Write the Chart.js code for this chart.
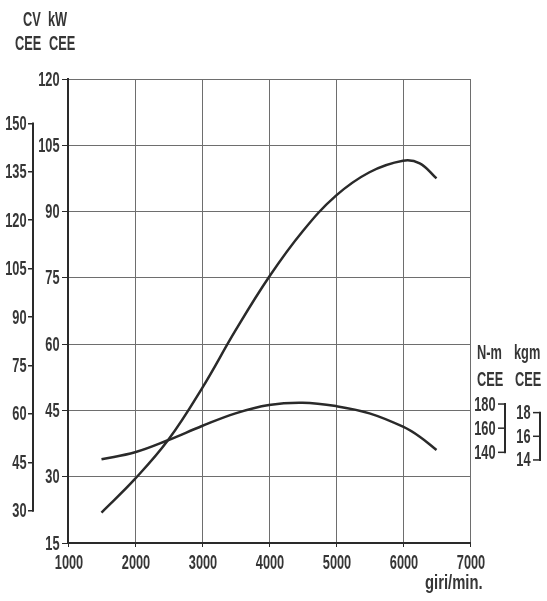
<!DOCTYPE html>
<html><head><meta charset="utf-8">
<script src="https://cdn.jsdelivr.net/npm/chart.js@4/dist/chart.umd.min.js"></script>
<style>html,body{margin:0;padding:0;background:#fff;overflow:hidden}canvas{display:block}</style>
</head><body>
<canvas id="c" width="547" height="601"></canvas>
<script>
// ---- data ----
const powerRpm = [1500, 2000, 2500, 3000, 3500, 4000, 4500, 5000, 5500, 6000, 6250, 6500];
const powerKW  = [21.9, 29.5, 38.4, 50.0, 63.1, 75.2, 85.5, 93.6, 98.9, 101.5, 100.9, 97.5];
const torqueRpm = [1500, 2000, 2500, 3000, 3500, 4000, 4500, 5000, 5500, 6000, 6250, 6500];
const torqueNm  = [134.2, 140.0, 150.2, 161.8, 172.3, 179.2, 181.1, 178.3, 172.3, 161.2, 152.9, 141.9];
// ---- tick labels ----
const rpmTicks = [1000, 2000, 3000, 4000, 5000, 6000, 7000];
const kwTicks  = [15, 30, 45, 60, 75, 90, 105, 120];
const cvTicks  = [30, 45, 60, 75, 90, 105, 120, 135, 150];
const nmTicks  = [140, 160, 180];
const kgmTicks = [14, 16, 18];
const xTitle = 'giri/min.';

const FONT = "'Liberation Sans','Arimo','DejaVu Sans',sans-serif";
const FSIZE = 20;
const SX = 0.64;           // condensed look of the original lettering
const TXT = '#363636';
const INK = '#2a2a2a';
const GRID = '#6e6e6e';

const setTicks = arr => s => { s.ticks = arr.map(v => ({value: v})); };

function txt(ctx, s, x, y, align, baseline, sx) {
  ctx.save();
  ctx.translate(x, y);
  ctx.scale(sx || SX, 1);
  ctx.textAlign = align || 'left';
  ctx.textBaseline = baseline || 'middle';
  ctx.fillText(s, 0, 0);
  ctx.restore();
}

const extras = {
  id: 'extras',
  afterDraw(chart) {
    const ctx = chart.ctx;
    const sc = chart.scales;
    ctx.save();
    ctx.font = `bold ${FSIZE}px ${FONT}`;
    ctx.fillStyle = TXT;
    ctx.strokeStyle = INK;
    ctx.lineWidth = 2;
    // x tick labels
    rpmTicks.forEach(v => txt(ctx, String(v), sc.x.getPixelForValue(v) + 1, 563, 'center'));
    // kW tick labels
    kwTicks.forEach(v => txt(ctx, String(v), sc.yKW.right - 8.5, sc.yKW.getPixelForValue(v) + 1, 'right'));
    // CV tick labels + bracket line
    const cv = sc.yCV;
    cvTicks.forEach(v => txt(ctx, String(v), cv.right - 6.5, cv.getPixelForValue(v) + 1, 'right'));
    ctx.beginPath();
    ctx.moveTo(cv.right, cv.getPixelForValue(cvTicks[0]) + 1);
    ctx.lineTo(cv.right, cv.getPixelForValue(cvTicks[cvTicks.length - 1]) - 1);
    ctx.stroke();
    // right brackets
    function bracket(scale, ticks, xLine, xLabelRight) {
      const y0 = scale.getPixelForValue(ticks[0]);
      const y1 = scale.getPixelForValue(ticks[ticks.length - 1]);
      ctx.lineWidth = 2;
      ctx.beginPath();
      ctx.moveTo(xLine, y0 + 1);
      ctx.lineTo(xLine, y1 - 1);
      ctx.stroke();
      ctx.lineWidth = 1.5;
      ticks.forEach(t => {
        const y = scale.getPixelForValue(t);
        ctx.beginPath();
        ctx.moveTo(xLine - 7, y);
        ctx.lineTo(xLine, y);
        ctx.stroke();
      });
      ticks.forEach(t => txt(ctx, String(t), xLabelRight, scale.getPixelForValue(t) + 1, 'right'));
    }
    bracket(sc.yNm, nmTicks, 505, 495.5);
    bracket(sc.yKgm, kgmTicks, 540, 530.5);
    // headers
    txt(ctx, 'CV', 23, 20);
    txt(ctx, 'kW', 48, 20);
    txt(ctx, 'CEE', 15, 44);
    txt(ctx, 'CEE', 49, 44);
    txt(ctx, 'N-m', 477, 353);
    txt(ctx, 'kgm', 514, 353);
    txt(ctx, 'CEE', 477, 380);
    txt(ctx, 'CEE', 515, 380);
    txt(ctx, xTitle, 425, 589, 'left', 'alphabetic', 0.74);
    ctx.restore();
  }
};

new Chart(document.getElementById('c'), {
  type: 'line',
  data: {
    datasets: [
      {
        label: 'Potenza',
        data: powerRpm.map((x, i) => ({x, y: powerKW[i]})),
        yAxisID: 'yKW',
        borderColor: INK, borderWidth: 2.5, pointRadius: 0,
        tension: 0.4, fill: false
      },
      {
        label: 'Coppia',
        data: torqueRpm.map((x, i) => ({x, y: torqueNm[i]})),
        yAxisID: 'yNm',
        borderColor: INK, borderWidth: 2.5, pointRadius: 0,
        tension: 0.4, fill: false
      }
    ]
  },
  options: {
    responsive: false,
    animation: false,
    devicePixelRatio: 1,
    layout: {padding: {left: 0, top: 79, right: 77, bottom: 0}},
    plugins: {legend: {display: false}, tooltip: {enabled: false}},
    scales: {
      x: {
        type: 'linear', position: 'bottom', min: 1000, max: 7000,
        afterBuildTicks: setTicks(rpmTicks),
        afterFit: s => { s.height = 58; },
        grid: {color: GRID, lineWidth: 1, tickLength: 4, tickColor: INK},
        border: {display: true, color: INK, width: 2},
        ticks: {display: false}
      },
      yCV: {
        type: 'linear', position: 'left', weight: 2, min: 20, max: 163.75,
        afterBuildTicks: setTicks(cvTicks),
        afterFit: s => { s.width = 33; },
        grid: {drawOnChartArea: false, tickLength: 5, tickColor: INK, lineWidth: 1.5},
        border: {display: false},
        ticks: {display: false}
      },
      yKW: {
        type: 'linear', position: 'left', weight: 1, min: 15, max: 120,
        afterBuildTicks: setTicks(kwTicks),
        afterFit: s => { s.width = 35; },
        grid: {color: GRID, lineWidth: 1, tickLength: 6, tickColor: INK},
        border: {display: true, color: INK, width: 2},
        ticks: {display: false}
      },
      yNm: {
        type: 'linear', position: 'right', display: false, min: 64.9, max: 449.2
      },
      yKgm: {
        type: 'linear', position: 'right', display: false, min: 6.98, max: 46.2
      }
    }
  },
  plugins: [extras]
});
</script>
</body></html>
